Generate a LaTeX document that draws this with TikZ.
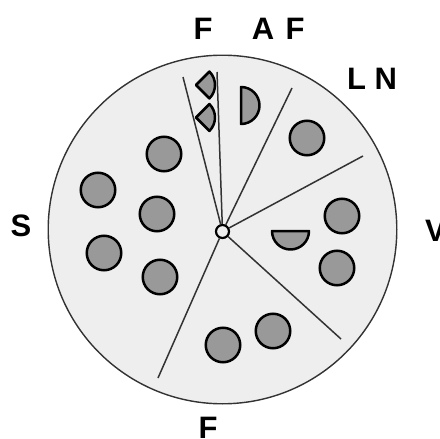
\documentclass[tikz,border=0pt]{standalone}
\usepackage{fontspec}
\setmainfont{Liberation Sans}
\definecolor{bggray}{HTML}{EEEEEE}
\definecolor{tokgray}{HTML}{999999}
\definecolor{rimgray}{HTML}{333333}
\begin{document}
\begin{tikzpicture}[x=1pt,y=-1pt,
  lbl/.style={font=\fontsize{31}{31}\selectfont\bfseries, inner sep=0pt, anchor=center},
  token/.style={circle, draw=black, line width=2.5pt, fill=tokgray, minimum size=34.5pt, inner sep=0pt},
  spoke/.style={draw=rimgray, line width=1.5pt},
  halfdisc/.style={draw=black, line width=2.5pt, fill=tokgray, line join=round}]
\useasboundingbox (0,0) rectangle (440,439);
% table
\node[circle, draw=rimgray, line width=1.4pt, fill=bggray, minimum size=348.6pt, inner sep=0pt] (table) at (222.5,229.5) {};
% spoke ends
\coordinate (e1) at (183,77);
\coordinate (e2) at (217,72);
\coordinate (e3) at (292,88);
\coordinate (e4) at (363,156);
\coordinate (e5) at (341,339);
\coordinate (e6) at (158,378);
\node[circle, draw=black, line width=2.2pt, fill=bggray, minimum size=13pt, inner sep=0pt] (hub) at (222.5,231.5) {};
\foreach \e in {e1,e2,e3,e4,e5,e6} \draw[spoke] (hub) -- (\e);
% tokens
\node[token] (c1) at (164,154) {};
\node[token] (c2) at (98,190) {};
\node[token] (c3) at (157,214) {};
\node[token] (c4) at (104,253) {};
\node[token] (c5) at (160,277) {};
\node[token] (c6) at (223,345) {};
\node[token] (c7) at (273,331) {};
\node[token] (c8) at (307,138) {};
\node[token] (c9) at (342,216) {};
\node[token] (c10) at (337,268) {};
% half discs and sectors
\draw[halfdisc] (241,87) arc[start angle=-90, end angle=90, radius=18.5] -- cycle;
\draw[halfdisc] (272,231) arc[start angle=180, end angle=0, radius=18.5] -- cycle;
\draw[halfdisc] (196,85) -- ++(-45:19) arc[start angle=-45, end angle=45, radius=19] -- cycle;
\draw[halfdisc] (196,117.5) -- ++(-45:19) arc[start angle=-45, end angle=45, radius=19] -- cycle;
% labels
\node[lbl] (t1) at (203,29) {F};
\node[lbl] (t2) at (263,29) {A};
\node[lbl] (t3) at (295,29) {F};
\node[lbl] (t4) at (372,79) {L N};
\node[lbl] (t5) at (21,226) {S};
\node[lbl, anchor=west] (t6) at (425,231) {V};
\node[lbl] (t7) at (208,428) {F};
\end{tikzpicture}
\end{document}
